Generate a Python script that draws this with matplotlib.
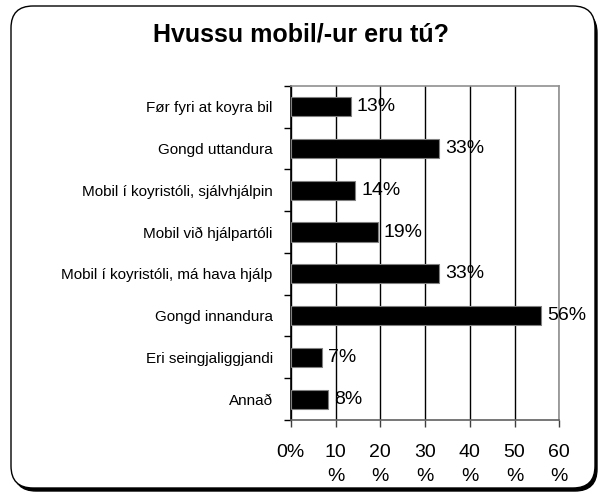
import matplotlib.pyplot as plt
from matplotlib.patches import FancyBboxPatch
from matplotlib.transforms import IdentityTransform

plt.rcParams["font.family"] = ["Liberation Sans", "DejaVu Sans"]

title = "Hvussu mobil/-ur eru tú?"
categories = [
    "Før fyri at koyra bil",
    "Gongd uttandura",
    "Mobil í koyristóli, sjálvhjálpin",
    "Mobil við hjálpartóli",
    "Mobil í koyristóli, má hava hjálp",
    "Gongd innandura",
    "Eri seingjaliggjandi",
    "Annað",
]
values = [13.4, 33.2, 14.4, 19.4, 33.2, 56.0, 7.0, 8.4]
value_labels = ["13%", "33%", "14%", "19%", "33%", "56%", "7%", "8%"]
xticks = [0, 10, 20, 30, 40, 50, 60]
xtick_labels = ["0%", "10\n%", "20\n%", "30\n%", "40\n%", "50\n%", "60\n%"]

fig = plt.figure(figsize=(6.02, 4.93), dpi=100)

# rounded frame with a drop shadow (pixel coordinates), kept behind the axes
shadow = FancyBboxPatch((14, 2), 583, 480, boxstyle="round,pad=0,rounding_size=22",
                        transform=IdentityTransform(), facecolor="black",
                        edgecolor="black", zorder=-2)
frame = FancyBboxPatch((11, 5), 584, 482, boxstyle="round,pad=0,rounding_size=22",
                       transform=IdentityTransform(), facecolor="white",
                       edgecolor="black", linewidth=1.0, zorder=-1)
fig.patches.extend([shadow, frame])

fig.text(0.5, 0.931, title, ha="center", va="center",
         fontsize=18, fontweight="bold")

ax = fig.add_axes([0.483, 0.148, 0.446, 0.678])
ax.set_facecolor("none")
ypos = list(range(len(categories)))
ax.barh(ypos, values, height=0.46, color="black", edgecolor="#808080",
        linewidth=0.8, zorder=3)
for y, v, lab in zip(ypos, values, value_labels):
    ax.text(v + 1.4, y, lab, va="center", ha="left", fontsize=14, zorder=4)

ax.set_xlim(0, 60)
ax.set_ylim(len(categories) - 0.5, -0.5)
ax.set_xticks(xticks)
ax.set_xticklabels(xtick_labels, fontsize=14, linespacing=1.6)
ax.set_yticks(ypos)
ax.set_yticklabels(categories, fontsize=11)
ax.set_yticks([i - 0.5 for i in range(len(categories) + 1)], minor=True)
ax.tick_params(axis="y", which="major", length=0, pad=13)
ax.tick_params(axis="y", which="minor", length=5, width=1, color="black")
ax.tick_params(axis="x", length=5, width=1, color="#404040", pad=12)

ax.grid(axis="x", color="black", linewidth=1, zorder=1)
ax.spines["left"].set_color("black")
ax.spines["bottom"].set_color("#606060")
ax.spines["top"].set_color("#909090")
ax.spines["right"].set_color("#909090")
for s in ax.spines.values():
    s.set_linewidth(1.2)

fig.savefig("out.png", dpi=100)
